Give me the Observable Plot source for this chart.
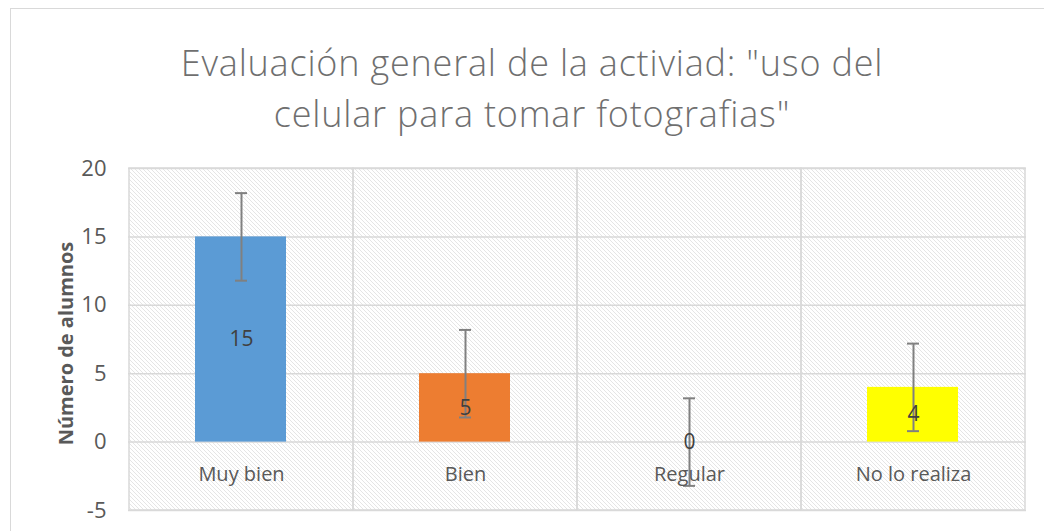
<!DOCTYPE html>
<html><head><meta charset="utf-8">
<script src="https://cdn.jsdelivr.net/npm/d3@7"></script>
<script src="https://cdn.jsdelivr.net/npm/@observablehq/plot@0.6"></script>
<style>
body{margin:0;background:#fff;width:1044px;height:531px;overflow:hidden;position:relative;font-family:"Open Sans",sans-serif}
#border{position:absolute;left:10px;top:8px;width:1100px;height:600px;border-left:1.5px solid #d9d9d9;border-top:1.5px solid #d9d9d9}
#title{position:absolute;left:0;top:37px;width:1064px;text-align:center;font-family:"Open Sans",sans-serif;font-weight:300;font-size:36px;letter-spacing:0.8px;line-height:51px;color:#6f6f6f}
#chart{position:absolute;left:0;top:150px}
</style></head><body>
<div id="border"></div>
<div id="title">Evaluación general de la activiad: "uso del<br>celular para tomar fotografias"</div>
<div id="chart"></div>
<script>
const categories = ["Muy bien", "Bien", "Regular", "No lo realiza"];
const values = [15, 5, 0, 4];
const colors = ["#5B9BD5", "#ED7D31", "#A5A5A5", "#FFFF00"];
const errorValue = 3.2;
const yTicks = [-5, 0, 5, 10, 15, 20];
const data = categories.map((c, i) => ({cat: c, value: values[i], color: colors[i], err: errorValue}));

const chart = Plot.plot({
  width: 1044, height: 381,
  marginLeft: 128, marginRight: 18, marginTop: 18, marginBottom: 21,
  style: {fontFamily: '"Open Sans", sans-serif', background: "transparent"},
  x: {domain: categories, padding: 0, axis: null},
  y: {domain: [-5, 20], axis: null},
  color: {type: "identity"},
  marks: [
    Plot.barY(categories, {x: d => d, y1: -5, y2: 20, fill: "url(#hatch)"}),
    Plot.ruleY(yTicks, {stroke: "#d9d9d9", strokeWidth: 1.5}),
    Plot.barY(categories, {x: d => d, y1: -5, y2: 20, fill: "none", stroke: "#d9d9d9", strokeWidth: 1.5}),
    Plot.barY(data, {x: "cat", y: "value", fill: "color", insetLeft: 66, insetRight: 67}),
    Plot.ruleX(data, {x: "cat", y1: d => d.value - d.err, y2: d => d.value + d.err, stroke: "#808080", strokeWidth: 2}),
    Plot.tickY(data, {x: "cat", y: d => d.value + d.err, stroke: "#808080", strokeWidth: 2, insetLeft: 106, insetRight: 106}),
    Plot.tickY(data, {x: "cat", y: d => d.value - d.err, stroke: "#808080", strokeWidth: 2, insetLeft: 106, insetRight: 106}),
    Plot.text(data, {x: "cat", y: d => d.value / 2, text: d => String(d.value), fontSize: 21, fill: "#404040"}),
    Plot.text(categories, {x: d => d, y: 0, dy: 32, text: d => d, fontSize: 20, fill: "#595959"}),
    Plot.axisY(yTicks, {tickSize: 0, tickPadding: 22, fontSize: 22, color: "#595959", label: null, tickFormat: d => String(d)}),
    Plot.text(["Número de alumnos"], {frameAnchor: "left", textAnchor: "middle", rotate: -90, dx: -62, dy: 4, text: d => d, fontWeight: "bold", fontSize: 20, fill: "#595959"})
  ]
});

const svg = d3.select(chart);
const defs = svg.insert("defs", ":first-child");
const pat = defs.append("pattern").attr("id", "hatch").attr("patternUnits", "userSpaceOnUse")
  .attr("width", 4).attr("height", 4);
pat.append("rect").attr("width", 4).attr("height", 4).attr("fill", "#fff");
pat.append("path").attr("d", "M-1,-1L5,5M-1,3L1,5M3,-1L5,1").attr("stroke", "#dedede").attr("stroke-width", 0.8);
document.getElementById("chart").appendChild(chart);
</script>
</body></html>
